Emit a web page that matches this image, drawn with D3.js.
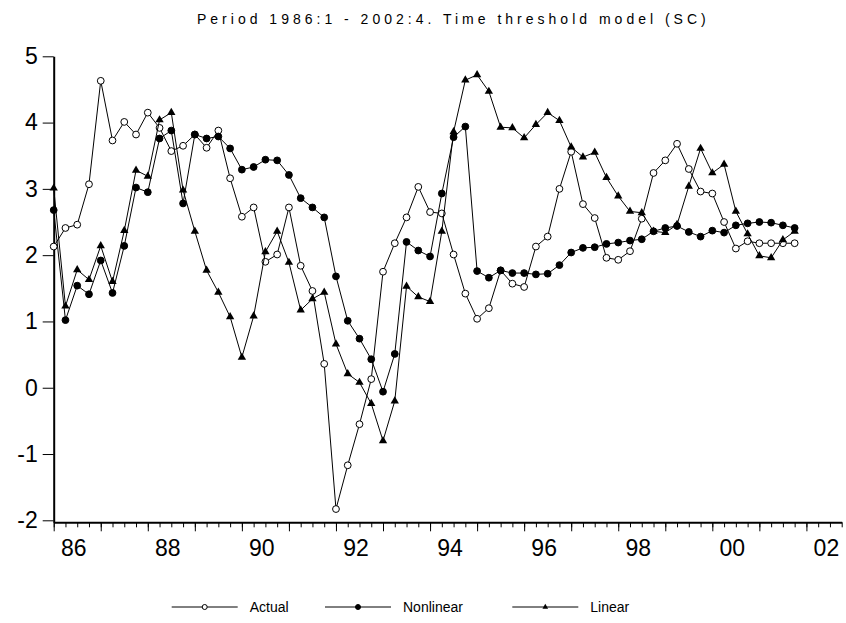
<!DOCTYPE html>
<html>
<head>
<meta charset="utf-8">
<script src="https://cdn.jsdelivr.net/npm/d3@7"></script>
<style>
  body { margin: 0; background: #fff; }
  text { font-family: "Liberation Sans", Arial, sans-serif; fill: #000; }
</style>
</head>
<body>
<div id="chart"></div>
<script>
// Quarterly observations 1986:1 onwards, tick labels every second year
const yearLabels = ["86", "88", "90", "92", "94", "96", "98", "00", "02"];
const seriesNames = ["Actual", "Nonlinear", "Linear"];

const actual = [2.13, 2.41, 2.46, 3.07, 4.63, 3.73, 4.01, 3.82, 4.15, 3.92,
    3.57, 3.65, 3.82, 3.62, 3.88, 3.16, 2.58, 2.72, 1.90, 2.01,
    2.72, 1.84, 1.46, 0.36, -1.83, -1.17, -0.55, 0.13, 1.75, 2.18,
    2.57, 3.03, 2.65, 2.63, 2.01, 1.42, 1.04, 1.20, 1.77, 1.57,
    1.52, 2.13, 2.28, 3.00, 3.56, 2.77, 2.56, 1.96, 1.93, 2.06,
    2.55, 3.24, 3.43, 3.68, 3.30, 2.96, 2.93, 2.50, 2.10, 2.21,
    2.18, 2.18, 2.18, 2.18];

const nonlinear = [2.68, 1.02, 1.54, 1.41, 1.92, 1.43, 2.14, 3.02, 2.95, 3.76,
    3.88, 2.78, 3.82, 3.76, 3.79, 3.61, 3.29, 3.33, 3.44, 3.43,
    3.21, 2.86, 2.72, 2.57, 1.68, 1.01, 0.74, 0.43, -0.06, 0.51,
    2.20, 2.07, 1.98, 2.93, 3.78, 3.94, 1.76, 1.66, 1.77, 1.73,
    1.73, 1.71, 1.72, 1.85, 2.04, 2.11, 2.12, 2.17, 2.19, 2.22,
    2.24, 2.36, 2.41, 2.44, 2.35, 2.28, 2.37, 2.34, 2.45, 2.48,
    2.50, 2.49, 2.45, 2.41];

const linear = [3.01, 1.23, 1.78, 1.63, 2.14, 1.60, 2.37, 3.28, 3.19, 4.04,
    4.15, 2.98, 2.36, 1.77, 1.44, 1.07, 0.46, 1.08, 2.05, 2.36,
    1.89, 1.17, 1.34, 1.44, 0.66, 0.21, 0.08, -0.24, -0.80, -0.20,
    1.53, 1.37, 1.30, 2.36, 3.86, 4.64, 4.72, 4.47, 3.93, 3.92,
    3.77, 3.97, 4.15, 4.03, 3.63, 3.48, 3.55, 3.17, 2.89, 2.66,
    2.64, 2.36, 2.34, 2.46, 3.04, 3.61, 3.24, 3.37, 2.66, 2.32,
    1.99, 1.96, 2.23, 2.36];

const width = 846, height = 623;
const nQuarters = 68; // 1986:1 - 2002:4

const svg = d3.select('#chart')
    .append('svg')
    .attr('width', width)
    .attr('height', height);

const x = d3.scaleLinear().domain([0, nQuarters - 1]).range([53.7, 841.7]);
const y = d3.scaleLinear().domain([-2.03, 5]).range([522.3, 56.3]);

// Title
svg.append('text')
    .attr('x', 197)
    .attr('y', 24)
    .style('font-size', '14px')
    .style('letter-spacing', '4px')
    .text('Period 1986:1 - 2002:4. Time threshold model (SC)');

// Y axis
const yAxis = svg.append('g')
    .attr('transform', 'translate(' + x(0) + ',0)')
    .call(d3.axisLeft(y)
        .tickValues(d3.range(-2, 6))
        .tickFormat(d => String(d))
        .tickSize(11)
        .tickSizeOuter(0)
        .tickPadding(5));
yAxis.select('.domain').attr('stroke-width', 2);
yAxis.selectAll('text')
    .style('font-size', '23px')
    .style('font-family', '"Liberation Sans", Arial, sans-serif');

// X axis: quarter ticks + longer year ticks
const xMinor = svg.append('g')
    .attr('transform', 'translate(0,' + y.range()[0] + ')')
    .call(d3.axisBottom(x).tickValues(d3.range(0, nQuarters)).tickSize(5).tickFormat('').tickSizeOuter(0));
xMinor.select('.domain').attr('stroke-width', 2);

svg.append('g')
    .attr('transform', 'translate(0,' + y.range()[0] + ')')
    .call(d3.axisBottom(x).tickValues(d3.range(0, nQuarters, 4)).tickSize(9).tickFormat(''))
    .select('.domain').remove();

svg.selectAll('.year-label')
    .data(yearLabels)
    .enter()
    .append('text')
    .attr('class', 'year-label')
    .attr('x', (d, i) => x(i * 8 + 1.7))
    .attr('y', 556)
    .attr('text-anchor', 'middle')
    .style('font-size', '23px')
    .text(d => d);

// Series
const line = d3.line()
    .x((d, i) => x(i))
    .y(d => y(d));

const triangle = d3.symbol().type(d3.symbolTriangle).size(30);

function drawMarker(sel, kind) {
    if (kind === 'Linear') {
        sel.append('path').attr('d', triangle).attr('fill', '#000');
    } else {
        sel.append('circle')
            .attr('r', 3.4)
            .attr('fill', kind === 'Actual' ? '#fff' : '#000')
            .attr('stroke', '#000')
            .attr('stroke-width', 1);
    }
}

[actual, nonlinear, linear].forEach((values, k) => {
    const g = svg.append('g');
    g.append('path')
        .datum(values)
        .attr('fill', 'none')
        .attr('stroke', '#000')
        .attr('stroke-width', 1)
        .attr('d', line);
    g.selectAll('g.pt')
        .data(values)
        .enter()
        .append('g')
        .attr('class', 'pt')
        .attr('transform', (d, i) => 'translate(' + x(i) + ',' + y(d) + ')')
        .call(drawMarker, seriesNames[k]);
});

// Legend
const legendX = [171.7, 325, 512.3];
seriesNames.forEach((name, k) => {
    const lg = svg.append('g').attr('transform', 'translate(' + legendX[k] + ',607)');
    lg.append('line')
        .attr('x1', 0).attr('x2', 66)
        .attr('stroke', '#000').attr('stroke-width', 1);
    lg.append('g')
        .attr('transform', 'translate(33,0)')
        .call(sel => {
            if (name === 'Linear') {
                sel.append('path').attr('d', d3.symbol().type(d3.symbolTriangle).size(14)).attr('fill', '#000');
            } else {
                sel.append('circle').attr('r', 2.5)
                    .attr('fill', name === 'Actual' ? '#fff' : '#000')
                    .attr('stroke', '#000');
            }
        });
    lg.append('text')
        .attr('x', 78)
        .attr('y', 5)
        .style('font-size', '14px')
        .text(name);
});
</script>
</body>
</html>
